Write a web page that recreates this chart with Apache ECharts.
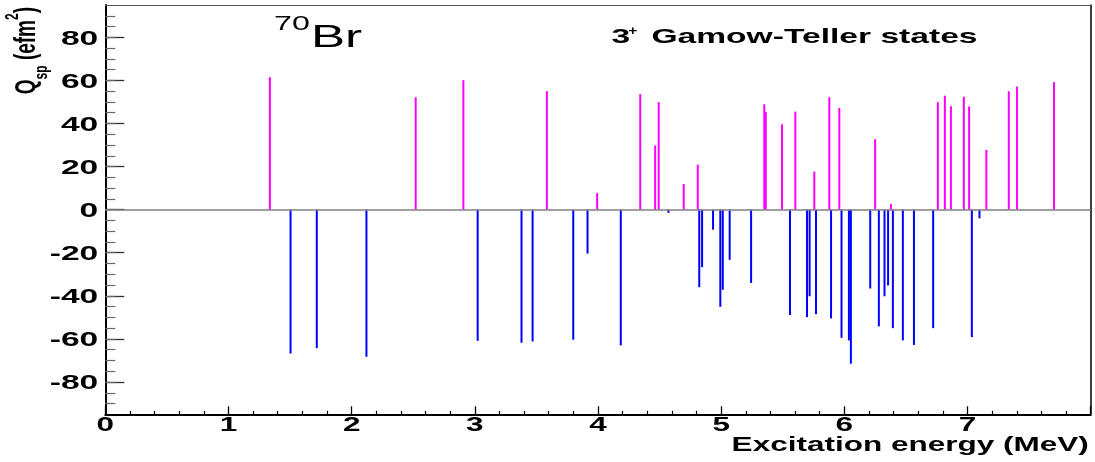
<!DOCTYPE html>
<html>
<head>
<meta charset="utf-8">
<script src="https://cdn.jsdelivr.net/npm/echarts@6/dist/echarts.min.js"></script>
<style>
  html, body { margin: 0; padding: 0; background: #ffffff; }
  #chart { width: 1095px; height: 462px; }
</style>
</head>
<body>
<div id="chart"></div>
<script>
// Positive single-particle quadrupole moments (efm^2) of the 3+ states
const upEnergy = [1.336, 2.520, 2.907, 3.585, 3.993, 4.343, 4.464, 4.493, 4.696, 4.810,
                  5.350, 5.362, 5.494, 5.602, 5.756, 5.878, 5.959, 6.250, 6.378, 6.759,
                  6.816, 6.865, 6.970, 7.013, 7.153, 7.335, 7.402, 7.702];
const upQ      = [61.5, 52.2, 60.1, 55.0, 7.7, 53.6, 29.8, 49.9, 11.9, 20.9,
                  48.9, 45.4, 39.6, 45.5, 17.7, 52.2, 47.2, 32.7, 2.6, 49.9,
                  52.9, 48.0, 52.4, 47.9, 27.7, 55.0, 57.1, 59.2];

// Negative single-particle quadrupole moments (efm^2)
const downEnergy = [1.504, 1.717, 2.120, 3.023, 3.379, 3.469, 3.799, 3.915, 4.185, 4.572,
                    4.822, 4.845, 4.934, 4.993, 5.013, 5.069, 5.243, 5.559, 5.697, 5.718,
                    5.770, 5.892, 5.977, 6.037, 6.053, 6.210, 6.280, 6.326, 6.355, 6.394,
                    6.475, 6.565, 6.721, 7.035, 7.097];
const downQ      = [-66.8, -64.3, -68.3, -60.9, -61.8, -61.2, -60.4, -20.4, -63.0, -1.5,
                    -36.0, -26.7, -9.3, -45.1, -37.2, -23.3, -34.0, -48.9, -49.9, -40.2,
                    -48.5, -50.5, -59.5, -60.7, -71.5, -36.6, -54.2, -40.2, -35.2, -55.0,
                    -60.7, -62.8, -55.0, -59.2, -4.0];

const xTickLabels = [0, 1, 2, 3, 4, 5, 6, 7];
const yTickLabels = [-80, -60, -40, -20, 0, 20, 40, 60, 80];

const X_MIN = 0, X_MAX = 8, Y_MIN = -95, Y_MAX = 95;

// minor y ticks every 5 units inside the frame
const yMinorTicks = [];
for (let v = Y_MIN + 5; v < Y_MAX; v += 5) yMinorTicks.push(v);

const FONT = '"Liberation Sans", Arial, Helvetica, sans-serif';
const STRETCH = 1.6;

const pairs = (xs, ys) => xs.map((x, i) => [x, ys[i]]);

const chart = echarts.init(document.getElementById('chart'), null, { renderer: 'canvas' });

const hiddenAxisBits = {
  axisLabel: { show: false },
  splitLine: { show: false }
};

const option = {
  animation: false,
  backgroundColor: '#ffffff',
  grid: { left: 105.3, right: 4.3, top: 5, bottom: 47.7, containLabel: false },
  xAxis: [
    {
      type: 'value', min: X_MIN, max: X_MAX, interval: 1, position: 'bottom',
      axisLine: { show: true, onZero: false, lineStyle: { color: '#000', width: 2 } },
      axisTick: { show: true, inside: true, length: 8, lineStyle: { color: '#000', width: 1.3 } },
      minorTick: { show: true, splitNumber: 5, length: 3.5, lineStyle: { color: '#000', width: 1.2 } },
      ...hiddenAxisBits
    },
    {
      type: 'value', min: X_MIN, max: X_MAX, position: 'top',
      axisLine: { show: true, onZero: false, lineStyle: { color: '#555', width: 1 } },
      axisTick: { show: false },
      ...hiddenAxisBits
    }
  ],
  yAxis: [
    {
      type: 'value', min: Y_MIN, max: Y_MAX, position: 'left',
      axisLine: { show: true, onZero: false, lineStyle: { color: '#000', width: 2 } },
      axisTick: { show: true, inside: true, length: 19, customValues: yTickLabels,
                  lineStyle: { color: '#333', width: 1.3 } },
      ...hiddenAxisBits
    },
    {
      type: 'value', min: Y_MIN, max: Y_MAX, position: 'left',
      axisLine: { show: false },
      axisTick: { show: true, inside: true, length: 10, customValues: yMinorTicks,
                  lineStyle: { color: '#666', width: 1.2 } },
      ...hiddenAxisBits
    },
    {
      type: 'value', min: Y_MIN, max: Y_MAX, position: 'right',
      axisLine: { show: true, onZero: false, lineStyle: { color: '#000', width: 1.5 } },
      axisTick: { show: false },
      ...hiddenAxisBits
    }
  ],
  series: [
    {
      name: 'positive', type: 'bar', xAxisIndex: 0, yAxisIndex: 0,
      data: pairs(upEnergy, upQ), barWidth: 2, barGap: '-100%',
      itemStyle: { color: '#ff00ff' },
      markLine: {
        silent: true, symbol: 'none', label: { show: false },
        lineStyle: { color: '#808080', width: 1.5, type: 'solid' },
        data: [{ yAxis: 0 }]
      }
    },
    {
      name: 'negative', type: 'bar', xAxisIndex: 0, yAxisIndex: 0,
      data: pairs(downEnergy, downQ), barWidth: 2, barGap: '-100%',
      itemStyle: { color: '#0000ff' }
    }
  ]
};

chart.setOption(option);

const px = v => chart.convertToPixel({ xAxisIndex: 0 }, v);
const py = v => chart.convertToPixel({ yAxisIndex: 0 }, v);

const text = (str, x, y, opts) => Object.assign({
  type: 'text', x: x, y: y, scaleX: STRETCH, silent: true,
  style: Object.assign({
    text: str, fill: '#000', fontFamily: FONT, fontWeight: 'bold', fontSize: 21,
    align: 'center', verticalAlign: 'middle'
  }, opts && opts.style)
}, opts && opts.el);

const graphics = [];

// tick labels on the energy axis
xTickLabels.forEach(v => {
  graphics.push(text(String(v), px(v), py(Y_MIN) + 10.5, { el: { scaleX: 1.5 } }));
});

// tick labels on the moment axis
yTickLabels.forEach(v => {
  graphics.push(text(String(v), px(X_MIN) - 7, py(v) + 1.5, { style: { align: 'right' } }));
});

// energy axis title, right aligned at the end of the axis
graphics.push(text('Excitation energy (MeV)', px(X_MAX) - 2, py(Y_MIN) + 31, {
  el: { scaleX: 1.5 }, style: { align: 'right' }
}));

// moment axis title, rotated, with sub- and superscripts
graphics.push({
  type: 'text', x: 27, y: 7, rotation: Math.PI / 2, scaleY: STRETCH, silent: true,
  style: {
    text: '{b|Q}{s|sp}{b| (efm}{p|2}{b|)}',
    align: 'right', verticalAlign: 'middle', fill: '#000',
    rich: {
      b: { fontSize: 19, fontWeight: 'bold', fontFamily: FONT, lineHeight: 30, verticalAlign: 'middle' },
      s: { fontSize: 12, fontWeight: 'bold', fontFamily: FONT, verticalAlign: 'bottom' },
      p: { fontSize: 12, fontWeight: 'bold', fontFamily: FONT, verticalAlign: 'top' }
    }
  }
});

// nucleus label
graphics.push(text('70', 274, 25, {
  el: { scaleX: 1.65 }, style: { align: 'left', fontWeight: 'normal', fontSize: 19.5 }
}));
graphics.push(text('Br', 311, 38, {
  el: { scaleX: 1.65 }, style: { align: 'left', fontWeight: 'normal', fontSize: 31 }
}));

// state label
graphics.push(text('3', 611.5, 37.5, { style: { align: 'left' } }));
graphics.push(text('+', 632.8, 31.5, { el: { scaleX: 1.2 }, style: { fontSize: 13 } }));
graphics.push(text('Gamow-Teller states', 651.4, 37.5, { style: { align: 'left' } }));

chart.setOption({ graphic: graphics });
</script>
</body>
</html>
